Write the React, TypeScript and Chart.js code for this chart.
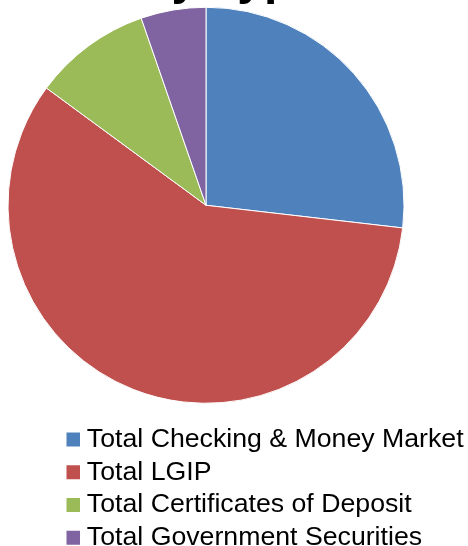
import React, { useEffect, useRef } from 'react';
import { Chart, registerables } from 'chart.js';

Chart.register(...registerables);

const categories = [
  'Total Checking & Money Market',
  'Total LGIP',
  'Total Certificates of Deposit',
  'Total Government Securities',
];
const shares = [26.8, 58.2, 9.6, 5.3];
const sliceColors = ['#4F81BD', '#C0504D', '#9BBB59', '#8064A2'];
const titleText = 'by Type';

const FONT = "'Liberation Sans', Arial, Helvetica, sans-serif";

export default function App() {
  const ref = useRef<HTMLCanvasElement>(null);

  useEffect(() => {
    if (!ref.current) return;
    const shiftPlugin = {
      id: 'shiftBoxes',
      afterLayout(chart: any) {
        const t = chart.titleBlock;
        const l = chart.legend;
        if (t) {
          t.left += 25;
          t.right += 25;
        }
        if (l) {
          l.left += 59;
          l.right = chart.width;
        }
      },
    };
    const chart = new Chart(ref.current, {
      type: 'pie',
      data: {
        labels: categories,
        datasets: [
          {
            data: shares,
            backgroundColor: sliceColors,
            borderColor: '#ffffff',
            borderWidth: 1,
          },
        ],
      },
      plugins: [shiftPlugin],
      options: {
        responsive: false,
        animation: false,
        devicePixelRatio: 1,
        layout: { padding: { left: 7.5, right: 63.5, top: 0, bottom: 0 } },
        plugins: {
          tooltip: { enabled: false },
          title: {
            display: true,
            text: titleText,
            color: '#000000',
            font: { family: FONT, size: 48, weight: 'bold', lineHeight: 1.2 },
            padding: { top: -1.5, bottom: -18.75 },
          },
          legend: {
            display: true,
            position: 'bottom',
            align: 'start',
            labels: {
              color: '#000000',
              font: { family: FONT, size: 26.7 },
              usePointStyle: true,
              pointStyle: 'rect',
              boxWidth: 1,
              boxHeight: 14,
              padding: 6,
              generateLabels(c: any) {
                const base = (Chart as any).overrides.pie.plugins.legend.labels.generateLabels(c);
                return base.map((it: any) => ({
                  ...it,
                  lineWidth: 0,
                  strokeStyle: it.fillStyle,
                  pointStyle: 'rect',
                  rotation: 0,
                }));
              },
            },
          },
        },
      },
    });
    return () => chart.destroy();
  }, []);

  return (
    <canvas
      ref={ref}
      width={468}
      height={608}
      style={{ position: 'fixed', left: 0, top: -47.5, width: 468, height: 608 }}
    />
  );
}
